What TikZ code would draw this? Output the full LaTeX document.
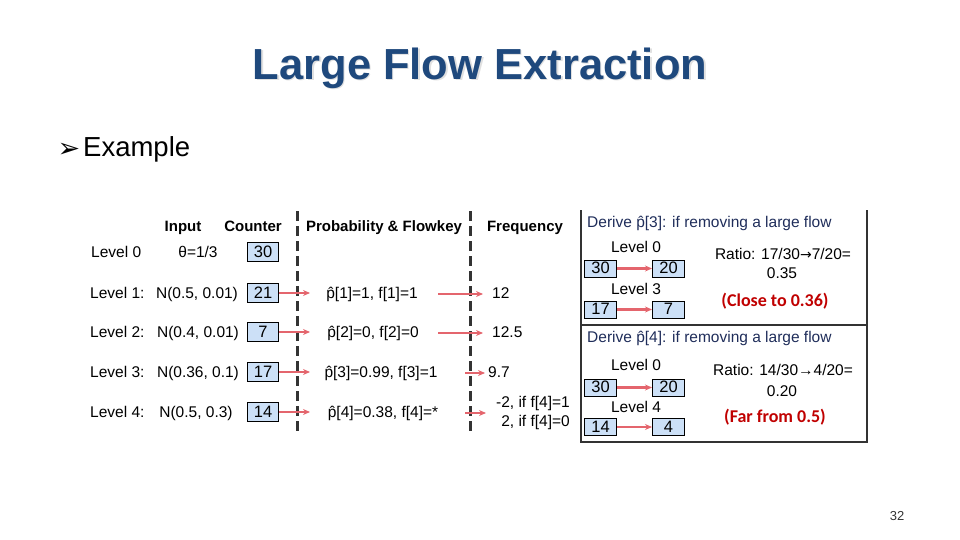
\documentclass[tikz,border=0pt]{standalone}
\usepackage{fontspec}
\setmainfont{Liberation Sans}
\newfontfamily\dejavu{DejaVu Sans}
\newfontfamily\carlito{Carlito}
\usetikzlibrary{arrows.meta}
\definecolor{titleblue}{HTML}{1F497D}
\definecolor{navy}{HTML}{1F2D5A}
\definecolor{arrowred}{HTML}{E4656D}
\definecolor{darkred}{HTML}{C00000}
\definecolor{boxblue}{HTML}{CCE0F7}
\definecolor{dashgray}{HTML}{333333}
\tikzset{
  txt/.style={inner sep=0pt, text height=11pt, text depth=3pt, font=\fontsize{15.5}{17}\selectfont},
  hdr/.style={inner sep=0pt, text height=11pt, text depth=3pt, font=\bfseries\fontsize{15}{17}\selectfont},
  ptxt/.style={inner sep=0pt, text height=11pt, text depth=3pt, font=\fontsize{15.5}{17}\selectfont},
  cbox/.style={draw=black, line width=1pt, fill=boxblue, minimum width=31pt, minimum height=19pt, inner sep=0pt, text height=11.5pt, text depth=1pt, font=\fontsize{16.5}{18}\selectfont},
  pbox/.style={draw=black, line width=1pt, fill=boxblue, minimum width=32pt, minimum height=17pt, inner sep=0pt, text height=11.5pt, text depth=1pt, font=\fontsize{16.5}{18}\selectfont},
  redarrow/.style={draw=arrowred, line width=2.2pt, -{Stealth[length=7pt,width=6pt]}},
  divline/.style={draw=dashgray, line width=3pt, dash pattern=on 10pt off 5pt},
  note/.style={inner sep=0pt, text=darkred, font=\carlito\bfseries\fontsize{18}{20}\selectfont},
}
\begin{document}
\begin{tikzpicture}[x=1pt,y=-1pt]
\useasboundingbox (0,0) rectangle (960,540);
% title
\node[text=black!12, font=\bfseries\fontsize{43.5}{48}\selectfont] (titleshadow) at (481.5,69.5) {Large Flow Extraction};
\node[text=titleblue, font=\bfseries\fontsize{43.5}{48}\selectfont] (title) at (480,68) {Large Flow Extraction};
% bullet
\node[inner sep=0pt, font=\dejavu\fontsize{27}{30}\selectfont] (bullet) at (69,150) {➢};
\node[anchor=west, inner sep=0pt, font=\fontsize{27.5}{30}\selectfont] (example) at (83,149) {Example};
% headers
\node[hdr] (hinput) at (183,227) {Input};
\node[hdr] (hcounter) at (253,227) {Counter};
\node[hdr] (hprob) at (384,227) {Probability \& Flowkey};
\node[hdr] (hfreq) at (525,227) {Frequency};
% dashed dividers
\coordinate (d1t) at (297,211); \coordinate (d1b) at (297,432);
\coordinate (d2t) at (470,211); \coordinate (d2b) at (470,432);
\draw[divline] (d1t) -- (d1b);
\draw[divline] (d2t) -- (d2b);
% level labels
\node[txt, anchor=west] (l0) at (91,253) {Level 0};
\node[txt, anchor=west] (l1) at (90,294) {Level 1:};
\node[txt, anchor=west] (l2) at (90,333) {Level 2:};
\node[txt, anchor=west] (l3) at (90,373) {Level 3:};
\node[txt, anchor=west] (l4) at (90,413) {Level 4:};
% inputs
\node[txt] (i0) at (198,253) {θ=1/3};
\node[txt] (i1) at (197,294) {N(0.5, 0.01)};
\node[txt] (i2) at (198,333) {N(0.4, 0.01)};
\node[txt] (i3) at (198,373) {N(0.36, 0.1)};
\node[txt] (i4) at (196,413) {N(0.5, 0.3)};
% counters
\node[cbox] (c0) at (263,252) {30};
\node[cbox] (c1) at (263,293) {21};
\node[cbox] (c2) at (263,332) {7};
\node[cbox] (c3) at (263,372) {17};
\node[cbox] (c4) at (263,412) {14};
% probability
\node[txt] (p1) at (372,294) {\^{p}[1]=1, f[1]=1};
\node[txt] (p2) at (373,333) {\^{p}[2]=0, f[2]=0};
\node[txt] (p3) at (381,373) {\^{p}[3]=0.99, f[3]=1};
\node[txt] (p4) at (383,413) {\^{p}[4]=0.38, f[4]=*};
% frequency
\node[txt, anchor=west] (f1) at (492,294) {12};
\node[txt, anchor=west] (f2) at (492,333) {12.5};
\node[txt, anchor=west] (f3) at (488,373) {9.7};
\node[inner sep=0pt, anchor=east, align=right, font=\fontsize{15.5}{19}\selectfont] (f4) at (570,413) {-2, if f[4]=1\\2, if f[4]=0};
% arrows counter -> prob
\coordinate (a1) at (310,293); \coordinate (a2) at (310,332);
\coordinate (a3) at (310,372); \coordinate (a4) at (310,412);
\draw[redarrow] (c1.east) -- (a1);
\draw[redarrow] (c2.east) -- (a2);
\draw[redarrow] (c3.east) -- (a3);
\draw[redarrow] (c4.east) -- (a4);
% arrows prob -> freq
\coordinate (b1s) at (438,294); \coordinate (b1e) at (483,294);
\coordinate (b2s) at (438,333); \coordinate (b2e) at (483,333);
\coordinate (b3s) at (465,373); \coordinate (b3e) at (485,373);
\coordinate (b4s) at (465,413); \coordinate (b4e) at (486,413);
\draw[redarrow] (b1s) -- (b1e);
\draw[redarrow] (b2s) -- (b2e);
\draw[redarrow] (b3s) -- (b3e);
\draw[redarrow] (b4s) -- (b4e);
% right panel frame
\coordinate (pt1) at (581,210); \coordinate (pb1) at (581,442);
\coordinate (pb2) at (867,442); \coordinate (pt2) at (867,210);
\coordinate (m1) at (581,325); \coordinate (m2) at (867,325);
\draw[dashgray, line width=1.5pt] (pt1) -- (pb1) -- (pb2) -- (pt2);
\draw[dashgray, line width=1.5pt] (m1) -- (m2);
% panel top
\node[ptxt, anchor=west, text=navy] (d3) at (587,223) {Derive \^{p}[3]: if removing a large flow};
\node[ptxt] (t0a) at (636,248) {Level 0};
\node[pbox] (ua) at (600.5,268.5) {30};
\node[pbox] (va) at (668.5,268.5) {20};
\draw[redarrow] (ua) -- (va);
\node[ptxt] (t3a) at (636,290) {Level 3};
\node[pbox] (ub) at (600.5,309.5) {17};
\node[pbox] (vb) at (668.5,309.5) {7};
\draw[redarrow] (ub) -- (vb);
\node[ptxt] (r3) at (783,255) {Ratio: 17/30{\dejavu\fontsize{14}{16}\selectfont→}7/20=};
\node[ptxt] (r3v) at (782,274) {0.35};
\node[note] (n3) at (775,301) {(Close to 0.36)};
% panel bottom
\node[ptxt, anchor=west, text=navy] (d4) at (587,338) {Derive \^{p}[4]: if removing a large flow};
\node[ptxt] (t0b) at (636,366) {Level 0};
\node[pbox] (uc) at (600.5,387.5) {30};
\node[pbox] (vc) at (668.5,387.5) {20};
\draw[redarrow] (uc) -- (vc);
\node[ptxt] (t4b) at (636,408) {Level 4};
\node[pbox] (ud) at (600.5,427) {14};
\node[pbox] (vd) at (668.5,427) {4};
\draw[redarrow] (ud) -- (vd);
\node[ptxt] (r4) at (783,371) {Ratio: 14/30→4/20=};
\node[ptxt] (r4v) at (782,392) {0.20};
\node[note] (n4) at (775,417) {(Far from 0.5)};
% page number
\node[inner sep=0pt, text=black!80, font=\fontsize{13}{15}\selectfont] (pg) at (897,516) {32};
\end{tikzpicture}
\end{document}
